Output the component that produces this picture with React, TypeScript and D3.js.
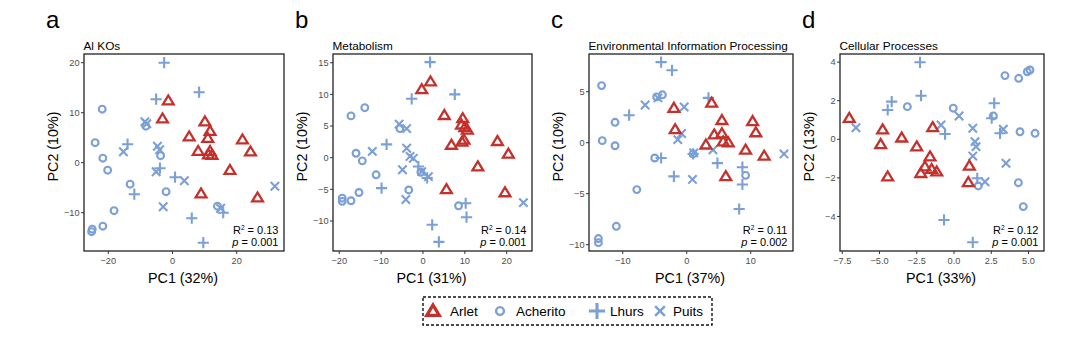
import React from 'react';
import * as d3 from 'd3';

type Pt = [number, number];

// ---------------- DATA ----------------
const groupNames = ['Arlet', 'Acherito', 'Lhurs', 'Puits'];
const panelLetters = ['a', 'b', 'c', 'd'];
const panelTitles = ['Al KOs', 'Metabolism', 'Environmental Information Processing', 'Cellular Processes'];
const xAxisTitles = ['PC1 (32%)', 'PC1 (31%)', 'PC1 (37%)', 'PC1 (33%)'];
const yAxisTitles = ['PC2 (10%)', 'PC2 (10%)', 'PC2 (10%)', 'PC2 (13%)'];
const r2Values = ['0.13', '0.14', '0.11', '0.12'];
const pValues = ['0.001', '0.001', '0.002', '0.001'];

const aXTicks = [-20, 0, 20];
const aYTicks = [-10, 0, 10, 20];
const bXTicks = [-20, -10, 0, 10, 20];
const bYTicks = [-10, -5, 0, 5, 10, 15];
const cXTicks = [-10, 0, 10];
const cYTicks = [-10, -5, 0, 5];
const dXTicks = [-7.5, -5, -2.5, 0, 2.5, 5];
const dYTicks = [-4, -2, 0, 2, 4];

const aArlet: Pt[] = [[-1.3,12.4],[-3.1,8.8],[10.1,8.2],[11.7,6.3],[5.2,5.2],[11.0,4.9],[21.8,4.6],[24.3,2.2],[8.0,2.3],[11.7,2.3],[11.2,1.6],[12.3,1.5],[17.9,-1.5],[8.9,-6.2],[26.5,-7.0]];
const aAcherito: Pt[] = [[-21.9,10.7],[-24.1,4.0],[-21.7,0.9],[-20.2,-1.5],[-8.3,7.3],[-3.7,1.4],[-13.2,-4.3],[-2.0,-5.8],[-18.2,-9.6],[-21.7,-12.7],[-25.0,-13.3],[-25.2,-13.8],[14.0,-8.7]];
const aLhurs: Pt[] = [[-2.6,20.0],[8.3,14.1],[-5.1,12.7],[-14.0,3.7],[-11.9,-6.3],[-3.9,-1.1],[0.8,-2.9],[6.0,-11.1],[9.6,-16.0],[15.8,-10.0]];
const aPuits: Pt[] = [[-8.6,8.2],[-8.0,7.8],[-15.3,2.2],[-4.7,3.3],[-4.0,2.6],[-5.1,-1.8],[3.7,-3.6],[-2.9,-8.8],[15.0,-9.1],[31.9,-4.7]];

const bArlet: Pt[] = [[-0.3,10.8],[1.8,12.0],[5.1,6.7],[9.5,6.2],[9.2,5.2],[10.0,4.8],[10.6,4.4],[6.8,2.0],[9.3,2.5],[9.8,2.8],[17.8,2.6],[20.4,0.6],[13.1,-1.4],[5.6,-5.0],[19.6,-5.5]];
const bAcherito: Pt[] = [[-17.2,6.6],[-13.9,7.9],[-5.5,4.6],[-16.0,0.7],[-14.5,-0.5],[-11.2,-2.7],[-15.3,-5.5],[-17.2,-6.8],[-19.3,-6.4],[-19.3,-6.9],[-3.4,-5.1],[8.5,-7.6],[-0.5,-2.3]];
const bLhurs: Pt[] = [[1.7,15.1],[7.6,10.0],[-2.7,9.3],[-8.7,2.1],[-1.1,-1.4],[1.0,-3.2],[-9.9,-4.8],[10.2,-7.2],[10.4,-9.4],[2.2,-10.6],[3.8,-13.3]];
const bPuits: Pt[] = [[-5.7,5.3],[-3.9,4.6],[-12.1,1.0],[-3.9,1.5],[-3.1,0.2],[-2.3,-0.1],[-4.9,-1.9],[-0.3,-2.2],[1.3,-3.0],[-4.1,-6.6],[24.0,-7.1]];

const cArlet: Pt[] = [[-2.0,3.4],[3.9,3.9],[-1.8,1.3],[5.5,2.2],[10.3,2.1],[10.8,1.0],[4.3,0.8],[5.5,0.9],[5.7,0.1],[6.5,0.0],[3.0,-0.2],[9.2,-0.7],[12.1,-1.3],[6.1,-3.3]];
const cAcherito: Pt[] = [[-13.3,5.6],[-4.7,4.5],[-3.8,4.7],[-11.2,2.0],[-13.2,0.2],[-11.2,-0.3],[-5.0,-1.5],[1.0,-1.1],[9.2,-3.2],[-7.8,-4.6],[-11.0,-8.2],[-13.8,-9.4],[-13.8,-9.8]];
const cLhurs: Pt[] = [[-4.0,7.9],[-2.3,7.1],[-9.0,2.7],[3.4,4.4],[4.8,-2.0],[-2.0,-3.3],[8.7,-2.4],[8.7,-4.1],[8.2,-6.5],[-4.0,-1.5],[1.0,-1.1]];
const cPuits: Pt[] = [[-6.5,3.7],[-4.5,4.4],[-0.4,3.5],[-0.8,0.9],[-1.4,0.3],[4.1,-0.7],[15.2,-1.1],[0.9,-3.6],[1.1,-1.0]];

const dArlet: Pt[] = [[-7.03,1.1],[-4.79,0.5],[-4.92,-0.26],[-3.51,0.08],[-2.5,-0.38],[-1.43,0.62],[-1.61,-0.9],[-4.45,-1.94],[-2.23,-1.76],[-1.95,-1.42],[-1.5,-1.55],[-1.16,-1.68],[1.03,-1.38],[0.96,-2.23]];
const dAcherito: Pt[] = [[-3.13,1.69],[-0.05,1.61],[3.42,3.3],[4.34,3.16],[4.92,3.5],[5.1,3.59],[2.64,1.21],[4.43,0.39],[5.44,0.31],[4.32,-2.25],[4.65,-3.49],[1.63,-2.42]];
const dLhurs: Pt[] = [[-2.28,3.99],[-2.21,2.26],[-4.18,1.95],[-4.45,1.52],[-0.6,0.27],[2.7,1.87],[2.53,1.09],[3.09,0.31],[-0.67,-4.18],[1.26,-5.34],[1.56,-2.02]];
const dPuits: Pt[] = [[-6.58,0.6],[0.34,1.21],[-0.87,0.74],[1.26,0.57],[1.41,-0.12],[1.48,-0.38],[1.26,-0.87],[3.31,0.52],[3.49,-1.24],[2.08,-2.2]];

// ---------------- LAYOUT ----------------
const RED = '#C4302B';
const BLUE = '#7B9FD7';
const FONT = "'Liberation Sans', Arial, Helvetica, sans-serif";
const TOP = 54;
const BOTTOM = 251;

const panels = [
  { left: 84, right: 284, xDomain: [-27.57, 34.74], yDomain: [-17.66, 21.74], xTicks: aXTicks, yTicks: aYTicks, data: [aArlet, aAcherito, aLhurs, aPuits], dec: 0 },
  { left: 333, right: 532, xDomain: [-21.5, 26.05], yDomain: [-14.74, 16.38], xTicks: bXTicks, yTicks: bYTicks, data: [bArlet, bAcherito, bLhurs, bPuits], dec: 0 },
  { left: 589, right: 793, xDomain: [-15.27, 16.61], yDomain: [-10.62, 8.7], xTicks: cXTicks, yTicks: cYTicks, data: [cArlet, cAcherito, cLhurs, cPuits], dec: 0 },
  { left: 840, right: 1044, xDomain: [-7.65, 6.04], yDomain: [-5.79, 4.42], xTicks: dXTicks, yTicks: dYTicks, data: [dArlet, dAcherito, dLhurs, dPuits], dec: 1 },
];

const fmt = (v: number, dec: number) => {
  const s = dec > 0 ? Math.abs(v).toFixed(dec) : String(Math.abs(v));
  return (v < 0 ? '\u2212' : '') + s;
};

function Marker({ shape, cx, cy, scale = 1, sw = 1 }: { shape: number; cx: number; cy: number; scale?: number; sw?: number }) {
  const k = scale;
  if (shape === 0) {
    const h = 5.2 * k;
    const w = 5.4 * k;
    const d = `M${cx},${cy - h}L${cx + w},${cy + h * 0.72}L${cx - w},${cy + h * 0.72}Z`;
    return <path d={d} fill="none" stroke={RED} strokeWidth={2.3 * k * sw} strokeLinejoin="miter" />;
  }
  if (shape === 1) {
    return <circle cx={cx} cy={cy} r={3.4 * k} fill="none" stroke={BLUE} strokeWidth={2.1 * k * sw} />;
  }
  if (shape === 2) {
    const s = 5.6 * k;
    return <path d={`M${cx - s},${cy}H${cx + s}M${cx},${cy - s}V${cy + s}`} stroke={BLUE} strokeWidth={2.1 * k * sw} fill="none" />;
  }
  const s = 4.2 * k;
  return <path d={`M${cx - s},${cy - s}L${cx + s},${cy + s}M${cx - s},${cy + s}L${cx + s},${cy - s}`} stroke={BLUE} strokeWidth={2.1 * k * sw} fill="none" />;
}

function Panel({ i }: { i: number }) {
  const p = panels[i];
  const x = d3.scaleLinear().domain(p.xDomain).range([p.left, p.right]);
  const y = d3.scaleLinear().domain(p.yDomain).range([BOTTOM, TOP]);
  const cxMid = (p.left + p.right) / 2;
  const yTitleX = p.left - 26.5;
  const yTitleY = 146.5;
  const order = [1, 2, 3, 0];
  return (
    <g>
      <text x={p.left - 38} y={28} fontSize={24} fill="#000">{panelLetters[i]}</text>
      <text x={p.left - 0.5} y={50} fontSize={11.8} fill="#000">{panelTitles[i]}</text>
      {order.map((g) =>
        p.data[g].map((d, j) => <Marker key={`${g}-${j}`} shape={g} cx={x(d[0])} cy={y(d[1])} />)
      )}
      <rect x={p.left} y={TOP} width={p.right - p.left} height={BOTTOM - TOP} fill="none" stroke="#222" strokeWidth={1.3} />
      {p.xTicks.map((t) => (
        <g key={`xt${t}`}>
          <line x1={x(t)} x2={x(t)} y1={BOTTOM} y2={BOTTOM + 3} stroke="#333" strokeWidth={1} />
          <text x={x(t)} y={264} fontSize={9.2} fill="#4D4D4D" textAnchor="middle">{fmt(t, p.dec)}</text>
        </g>
      ))}
      {p.yTicks.map((t) => (
        <g key={`yt${t}`}>
          <line x1={p.left - 3} x2={p.left} y1={y(t)} y2={y(t)} stroke="#333" strokeWidth={1} />
          <text x={p.left - 4.5} y={y(t) + 3.2} fontSize={9.2} fill="#4D4D4D" textAnchor="end">{fmt(t, 0)}</text>
        </g>
      ))}
      <text x={cxMid - 1} y={283} fontSize={14.3} textAnchor="middle" fill="#000">{xAxisTitles[i]}</text>
      <text transform={`translate(${yTitleX},${yTitleY}) rotate(-90)`} fontSize={14.3} textAnchor="middle" fill="#000">{yAxisTitles[i]}</text>
      <text x={p.right - 5.5} y={234} fontSize={11} textAnchor="end" fill="#000">
        R<tspan fontSize={6.5} dy={-4.5}>2</tspan><tspan dy={4.5}>{` = ${r2Values[i]}`}</tspan>
      </text>
      <text x={p.right - 5.5} y={246} fontSize={11} textAnchor="end" fill="#000">
        <tspan fontStyle="italic">p</tspan>{` = ${pValues[i]}`}
      </text>
    </g>
  );
}

function Legend() {
  const markerX = [433, 500, 597, 660];
  const textX = [450, 516, 610, 673];
  const cy = 311;
  return (
    <g>
      <rect x={423} y={297} width={289} height={28} fill="none" stroke="#111" strokeWidth={1.4} strokeDasharray="3,2" />
      {groupNames.map((g, i) => (
        <g key={g}>
          <Marker shape={i} cx={markerX[i]} cy={cy} scale={i === 2 ? 1.45 : 1.15} sw={i === 0 ? 1.25 : 1} />
          <text x={textX[i]} y={cy + 5} fontSize={13.5} fill="#000">{g}</text>
        </g>
      ))}
    </g>
  );
}

export default function App() {
  return (
    <svg width={1071} height={337} style={{ position: 'absolute', left: 0, top: 0, background: '#fff' }} fontFamily={FONT}>
      <rect x={0} y={0} width={1071} height={337} fill="#fff" />
      {panels.map((_, i) => <Panel key={i} i={i} />)}
      <Legend />
    </svg>
  );
}
